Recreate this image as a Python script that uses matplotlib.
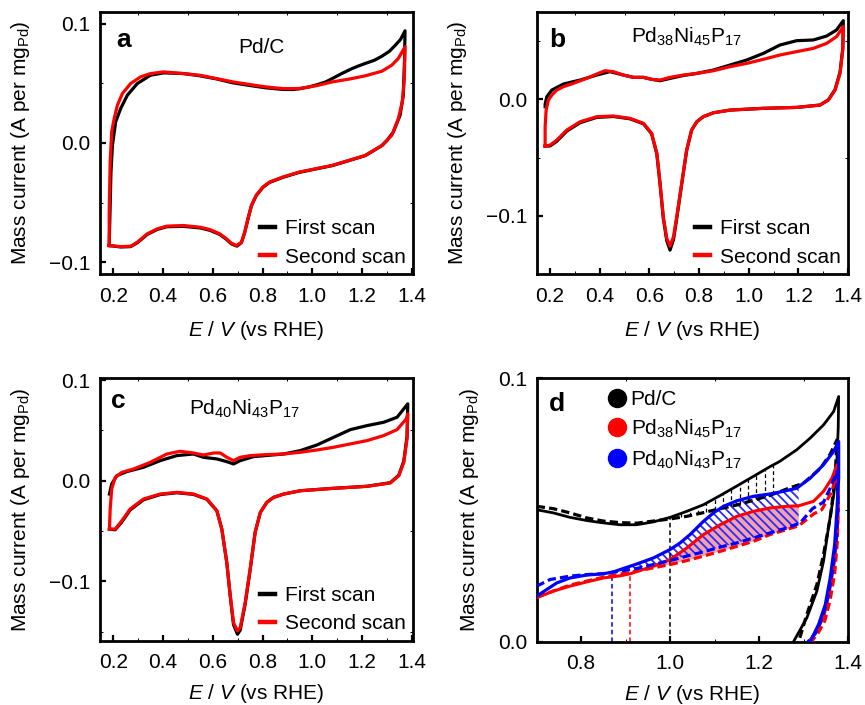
import numpy as np
import matplotlib
matplotlib.use('Agg')
import matplotlib.pyplot as plt
from matplotlib.ticker import MultipleLocator
from matplotlib.lines import Line2D

plt.rcParams.update({
    'font.family': ['Liberation Sans', 'DejaVu Sans'],
    'font.size': 15,
    'mathtext.fontset': 'custom',
    'mathtext.rm': 'Liberation Sans',
    'mathtext.it': 'Liberation Sans:italic',
    'mathtext.bf': 'Liberation Sans:bold',
    'axes.linewidth': 2.0,
    'hatch.linewidth': 1.3,
})

# ---------------- Panel a : Pd/C ----------------
a1_fwd_E = [0.183, 0.186, 0.190, 0.196, 0.209, 0.229, 0.256, 0.296, 0.349, 0.402, 0.482, 0.548, 0.615, 0.681, 0.748, 0.814, 0.881, 0.921, 0.947, 0.987, 1.020, 1.054, 1.080, 1.120, 1.160, 1.187, 1.213, 1.250, 1.280, 1.310, 1.333, 1.355, 1.373]
a1_fwd_I = [-0.0861, -0.060, -0.025, -0.002, 0.0177, 0.0289, 0.0401, 0.0499, 0.0569, 0.0589, 0.0583, 0.0564, 0.0538, 0.0505, 0.0483, 0.0463, 0.0450, 0.0449, 0.0455, 0.0471, 0.0490, 0.0513, 0.0541, 0.0585, 0.0625, 0.0648, 0.0668, 0.0695, 0.0729, 0.0770, 0.0819, 0.0870, 0.0942]
a1_bwd_E = [1.373, 1.371, 1.366, 1.353, 1.326, 1.300, 1.280, 1.213, 1.147, 1.080, 1.014, 0.947, 0.881, 0.828, 0.801, 0.774, 0.755, 0.741, 0.728, 0.715, 0.697, 0.675, 0.655, 0.628, 0.588, 0.548, 0.482, 0.415, 0.376, 0.336, 0.296, 0.269, 0.229, 0.183]
a1_bwd_I = [0.0942, 0.070, 0.0401, 0.0233, 0.0093, 0.0020, -0.0022, -0.0106, -0.0148, -0.0190, -0.0218, -0.0247, -0.0289, -0.0331, -0.0373, -0.0443, -0.0528, -0.0640, -0.0752, -0.0836, -0.0866, -0.0848, -0.0810, -0.0768, -0.0733, -0.0713, -0.0700, -0.0703, -0.0726, -0.0768, -0.0838, -0.0870, -0.0873, -0.0861]
a2_fwd_E = [0.183, 0.183, 0.187, 0.193, 0.203, 0.216, 0.236, 0.269, 0.309, 0.349, 0.402, 0.482, 0.548, 0.615, 0.681, 0.748, 0.814, 0.881, 0.947, 1.014, 1.080, 1.147, 1.213, 1.280, 1.320, 1.346, 1.373]
a2_fwd_I = [-0.0861, -0.058, -0.016, 0.0093, 0.0205, 0.0317, 0.0415, 0.0499, 0.0555, 0.0583, 0.0597, 0.0583, 0.0569, 0.0541, 0.0513, 0.0491, 0.0471, 0.0457, 0.0457, 0.0480, 0.0513, 0.0536, 0.0564, 0.0603, 0.0654, 0.0710, 0.0808]
a2_bwd_E = [1.373, 1.370, 1.362, 1.346, 1.320, 1.280, 1.213, 1.147, 1.080, 1.014, 0.947, 0.881, 0.828, 0.801, 0.774, 0.755, 0.741, 0.728, 0.715, 0.695, 0.675, 0.655, 0.628, 0.588, 0.548, 0.482, 0.415, 0.376, 0.336, 0.296, 0.269, 0.229, 0.183]
a2_bwd_I = [0.0808, 0.0541, 0.0345, 0.0205, 0.0065, -0.0020, -0.0104, -0.0146, -0.0188, -0.0216, -0.0244, -0.0286, -0.0328, -0.0370, -0.0440, -0.0525, -0.0637, -0.0749, -0.0833, -0.0861, -0.0842, -0.0805, -0.0763, -0.0727, -0.0707, -0.0693, -0.0698, -0.0721, -0.0763, -0.0833, -0.0867, -0.0870, -0.0861]

# ---------------- Panel b : Pd38Ni45P17 ----------------
b1_fwd_E = [0.180, 0.180, 0.187, 0.207, 0.254, 0.321, 0.388, 0.441, 0.495, 0.536, 0.576, 0.609, 0.643, 0.683, 0.737, 0.791, 0.858, 0.925, 0.992, 1.059, 1.126, 1.193, 1.260, 1.314, 1.354, 1.381]
b1_fwd_I = [-0.0063, -0.0040, 0.0023, 0.0080, 0.0132, 0.0166, 0.0209, 0.0238, 0.0209, 0.0189, 0.0189, 0.0172, 0.0160, 0.0180, 0.0205, 0.0223, 0.0252, 0.0295, 0.0338, 0.0395, 0.0467, 0.0504, 0.0510, 0.0544, 0.0596, 0.0676]
b_bwd_E = [1.381, 1.379, 1.368, 1.348, 1.321, 1.287, 1.193, 1.059, 0.925, 0.858, 0.817, 0.791, 0.770, 0.750, 0.730, 0.710, 0.697, 0.683, 0.670, 0.656, 0.643, 0.630, 0.609, 0.576, 0.522, 0.455, 0.388, 0.321, 0.267, 0.227, 0.200, 0.180]
b1_bwd_I = [0.0676, 0.0440, 0.0235, 0.0085, -0.0004, -0.0049, -0.0069, -0.0077, -0.0092, -0.0115, -0.0149, -0.0192, -0.0264, -0.0440, -0.0730, -0.1025, -0.1205, -0.1295, -0.1215, -0.1020, -0.0730, -0.0470, -0.0296, -0.0210, -0.0167, -0.0147, -0.0155, -0.0200, -0.0273, -0.0360, -0.0400, -0.0401]
b2_fwd_E = [0.180, 0.180, 0.184, 0.193, 0.207, 0.227, 0.254, 0.294, 0.348, 0.388, 0.421, 0.455, 0.495, 0.536, 0.576, 0.609, 0.643, 0.683, 0.737, 0.791, 0.858, 0.925, 0.992, 1.059, 1.126, 1.193, 1.260, 1.314, 1.354, 1.381]
b2_fwd_I = [-0.0401, -0.0235, -0.0092, -0.0006, 0.0037, 0.0080, 0.0109, 0.0138, 0.0181, 0.0218, 0.0246, 0.0238, 0.0209, 0.0189, 0.0189, 0.0172, 0.0166, 0.0189, 0.0209, 0.0223, 0.0246, 0.0281, 0.0309, 0.0344, 0.0381, 0.0410, 0.0438, 0.0481, 0.0539, 0.0625]
b2_bwd_I = [0.0625, 0.0424, 0.0223, 0.0080, -0.0006, -0.0049, -0.0069, -0.0077, -0.0092, -0.0115, -0.0149, -0.0192, -0.0264, -0.0436, -0.0722, -0.1009, -0.1181, -0.1261, -0.1195, -0.1009, -0.0722, -0.0464, -0.0292, -0.0206, -0.0163, -0.0143, -0.0149, -0.0192, -0.0264, -0.0350, -0.0393, -0.0401]

# ---------------- Panel c : Pd40Ni43P17 ----------------
c1_fwd_E = [0.184, 0.193, 0.214, 0.254, 0.321, 0.388, 0.455, 0.522, 0.562, 0.616, 0.656, 0.683, 0.710, 0.764, 0.885, 0.952, 1.019, 1.086, 1.153, 1.220, 1.287, 1.341, 1.384]
c1_fwd_I = [-0.0133, -0.0033, 0.0050, 0.0090, 0.0133, 0.0199, 0.0249, 0.0265, 0.0232, 0.0216, 0.0189, 0.0166, 0.0199, 0.0239, 0.0265, 0.0299, 0.0355, 0.0431, 0.0507, 0.0547, 0.0580, 0.0630, 0.0763]
c_bwd_E = [1.384, 1.381, 1.368, 1.348, 1.314, 1.220, 1.086, 0.952, 0.885, 0.844, 0.817, 0.791, 0.770, 0.750, 0.730, 0.710, 0.699, 0.683, 0.670, 0.656, 0.636, 0.616, 0.576, 0.522, 0.455, 0.388, 0.321, 0.267, 0.234, 0.207, 0.184]
c1_bwd_I = [0.0763, 0.0440, 0.0195, 0.0055, -0.0020, -0.0056, -0.0076, -0.0100, -0.0133, -0.0166, -0.0216, -0.0315, -0.0514, -0.0885, -0.1225, -0.1485, -0.1526, -0.1430, -0.1150, -0.0815, -0.0481, -0.0299, -0.0185, -0.0136, -0.0120, -0.0138, -0.0190, -0.0292, -0.0410, -0.0488, -0.0481]
c2_fwd_E = [0.184, 0.187, 0.193, 0.207, 0.234, 0.281, 0.348, 0.415, 0.468, 0.522, 0.562, 0.603, 0.630, 0.656, 0.683, 0.710, 0.750, 0.817, 0.885, 0.952, 1.019, 1.086, 1.153, 1.220, 1.287, 1.341, 1.378, 1.384]
c2_fwd_I = [-0.0481, -0.0282, -0.0083, 0.0033, 0.0083, 0.0116, 0.0182, 0.0265, 0.0292, 0.0275, 0.0255, 0.0275, 0.0275, 0.0232, 0.0199, 0.0232, 0.0249, 0.0259, 0.0265, 0.0282, 0.0305, 0.0332, 0.0365, 0.0398, 0.0448, 0.0507, 0.0614, 0.0663]
c2_bwd_I = [0.0663, 0.0415, 0.0182, 0.0050, -0.0023, -0.0056, -0.0076, -0.0100, -0.0133, -0.0166, -0.0216, -0.0315, -0.0514, -0.0879, -0.1211, -0.1459, -0.1493, -0.1410, -0.1144, -0.0813, -0.0481, -0.0299, -0.0182, -0.0133, -0.0116, -0.0133, -0.0182, -0.0282, -0.0398, -0.0481, -0.0481]

# ---------------- Panel d : comparison (0.7-1.4 V) ----------------
d_pdc1_fwd_E = [0.700, 0.7375, 0.775, 0.8125, 0.850, 0.8875, 0.925, 0.9625, 1.000, 1.0375, 1.075, 1.1126, 1.150, 1.1876, 1.225, 1.246, 1.285, 1.315, 1.345, 1.3677, 1.379]
d_pdc1_fwd_I = [0.0501, 0.0489, 0.0472, 0.0460, 0.0451, 0.0444, 0.0444, 0.0455, 0.0472, 0.0495, 0.0520, 0.0555, 0.0591, 0.0628, 0.0665, 0.0684, 0.0729, 0.0773, 0.0823, 0.0874, 0.0931]
d_pdc1_bwd_E = [1.379, 1.378, 1.375, 1.368, 1.356, 1.345, 1.330, 1.3075, 1.2775, 1.265]
d_pdc1_bwd_I = [0.0931, 0.0811, 0.0684, 0.0558, 0.0432, 0.0306, 0.0192, 0.0091, 0.0, -0.003]
d_pdc2_fwd_E = [0.700, 0.7375, 0.775, 0.8125, 0.850, 0.8875, 0.925, 0.9625, 1.000, 1.0375, 1.075, 1.1125, 1.150, 1.1875, 1.225, 1.246, 1.2625, 1.300, 1.3375, 1.360, 1.375]
d_pdc2_fwd_I = [0.0514, 0.0505, 0.0489, 0.0470, 0.0458, 0.0452, 0.0450, 0.0458, 0.0466, 0.0476, 0.0490, 0.0505, 0.0519, 0.0537, 0.0556, 0.0569, 0.0580, 0.0602, 0.0657, 0.0712, 0.0766]
d_pdc2_bwd_E = [1.375, 1.371, 1.360, 1.345, 1.330, 1.3075, 1.289, 1.280]
d_pdc2_bwd_I = [0.0766, 0.0621, 0.0470, 0.0331, 0.0217, 0.0104, 0.0, -0.003]

d_pnp38_1_fwd_E = [0.700, 0.7375, 0.775, 0.8125, 0.850, 0.8875, 0.910, 0.9625, 1.000, 1.0375, 1.075, 1.1125, 1.150, 1.1875, 1.225, 1.2625, 1.289, 1.3225, 1.345, 1.364, 1.375]
d_pnp38_1_fwd_I = [0.0167, 0.0192, 0.0211, 0.0227, 0.0242, 0.0250, 0.0258, 0.0287, 0.0312, 0.0356, 0.0407, 0.0444, 0.0476, 0.0495, 0.0508, 0.0514, 0.0516, 0.0533, 0.0571, 0.0621, 0.0672]
d_pnp38_1_bwd_E = [1.375, 1.378, 1.376, 1.369, 1.358, 1.346, 1.330, 1.312, 1.305]
d_pnp38_1_bwd_I = [0.0672, 0.055, 0.042, 0.030, 0.019, 0.010, 0.004, 0.0, -0.003]
d_pnp38_2_fwd_E = [0.700, 0.775, 0.850, 0.925, 1.000, 1.0375, 1.075, 1.1125, 1.150, 1.1875, 1.225, 1.2625, 1.289, 1.3225, 1.341, 1.364, 1.375]
d_pnp38_2_fwd_I = [0.0170, 0.0215, 0.0245, 0.0268, 0.0293, 0.0308, 0.0325, 0.0343, 0.0362, 0.0381, 0.0407, 0.0426, 0.0440, 0.0485, 0.0501, 0.0571, 0.0646]
d_pnp38_2_bwd_E = [1.375, 1.378, 1.376, 1.370, 1.360, 1.348, 1.332, 1.317, 1.310]
d_pnp38_2_bwd_I = [0.0646, 0.050, 0.038, 0.026, 0.016, 0.008, 0.003, 0.0, -0.003]

d_pnp40_1_fwd_E = [0.700, 0.7225, 0.745, 0.775, 0.8125, 0.850, 0.8725, 0.895, 0.925, 0.9625, 1.000, 1.0225, 1.045, 1.075, 1.0975, 1.120, 1.150, 1.1875, 1.225, 1.255, 1.285, 1.315, 1.345, 1.3675, 1.379]
d_pnp40_1_fwd_I = [0.0173, 0.0198, 0.0223, 0.0242, 0.0253, 0.0258, 0.0265, 0.0278, 0.0295, 0.0318, 0.0350, 0.0375, 0.0407, 0.0457, 0.0489, 0.0514, 0.0535, 0.0552, 0.0561, 0.0571, 0.0583, 0.0621, 0.0672, 0.0722, 0.0760]
d_pnp40_1_bwd_E = [1.379, 1.379, 1.375, 1.370, 1.360, 1.349, 1.334, 1.315, 1.308]
d_pnp40_1_bwd_I = [0.0760, 0.0621, 0.0495, 0.0369, 0.0242, 0.0141, 0.0066, 0.0, -0.003]
d_pnp40_2_fwd_E = [0.700, 0.730, 0.775, 0.8125, 0.850, 0.8875, 0.925, 0.9625, 1.000, 1.0375, 1.075, 1.1125, 1.150, 1.1875, 1.225, 1.2625, 1.2925, 1.320, 1.345, 1.360, 1.375]
d_pnp40_2_fwd_I = [0.0211, 0.0236, 0.0249, 0.0255, 0.0258, 0.0268, 0.0278, 0.0293, 0.0308, 0.0325, 0.0341, 0.0359, 0.0375, 0.0394, 0.0413, 0.0432, 0.0451, 0.0505, 0.0530, 0.0583, 0.0646]
d_pnp40_2_bwd_E = [1.375, 1.378, 1.374, 1.366, 1.355, 1.342, 1.326, 1.310, 1.303]
d_pnp40_2_bwd_I = [0.0646, 0.052, 0.040, 0.028, 0.017, 0.009, 0.003, 0.0, -0.003]

onset_E = [1.00, 0.91, 0.87]                 # Pd/C, Pd38Ni45P17, Pd40Ni43P17
area_ranges = [(1.00, 1.246), (0.91, 1.289), (0.87, 1.289)]
legend_labels_d = ['Pd/C', 'Pd$_{38}$Ni$_{45}$P$_{17}$', 'Pd$_{40}$Ni$_{43}$P$_{17}$']
scan_labels = ['First scan', 'Second scan']
panel_titles = ['Pd/C', 'Pd$_{38}$Ni$_{45}$P$_{17}$', 'Pd$_{40}$Ni$_{43}$P$_{17}$']

XLAB = '$E$ / $V$ (vs RHE)'
YLAB = 'Mass current (A per mg$_{\\mathrm{Pd}}$)'

fig = plt.figure(figsize=(8.65, 7.05), dpi=100)
W, H = 865.0, 705.0
def add_ax(l, r, t, b):
    return fig.add_axes([l / W, 1 - b / H, (r - l) / W, (b - t) / H])

ax_a = add_ax(100, 413, 12, 274)
ax_b = add_ax(536.7, 848, 11.7, 274)
ax_c = add_ax(100, 413, 378.3, 640.7)
ax_d = add_ax(536.7, 848, 378.3, 641.7)

def style(ax, xmaj, xmin, ymaj, ymin, xpad=10):
    ax.xaxis.set_major_locator(MultipleLocator(xmaj))
    ax.xaxis.set_minor_locator(MultipleLocator(xmin))
    ax.yaxis.set_major_locator(MultipleLocator(ymaj))
    ax.yaxis.set_minor_locator(MultipleLocator(ymin))
    ax.tick_params(which='major', direction='in', length=4.5, width=1.6, labelsize=15)
    ax.tick_params(axis='x', which='major', pad=9)
    ax.tick_params(axis='y', which='major', pad=7)
    ax.tick_params(which='minor', direction='in', length=2.5, width=0.7,
                   top=True, right=True)
    ax.set_xlabel(XLAB, fontsize=15, labelpad=xpad)
    ax.set_ylabel(YLAB, fontsize=15, labelpad=12)

LW = 2.3
def cv_panel(ax, f1E, f1I, b1E, b1I, f2E, f2I, b2E, b2I, letter, title, tpos, lpos, ylim, xpad=10):
    l1, = ax.plot(np.r_[f1E, b1E], np.r_[f1I, b1I], color='black', lw=LW, label=scan_labels[0])
    l2, = ax.plot(np.r_[f2E, b2E], np.r_[f2I, b2I], color='#ff0000', lw=LW, label=scan_labels[1])
    ax.set_xlim(0.146, 1.405)
    ax.set_ylim(*ylim)
    style(ax, 0.2, 0.1, 0.1, 0.05, xpad)
    ax.text(lpos[0], lpos[1], letter, transform=ax.transAxes, fontsize=19,
            fontweight='bold', ha='left', va='baseline')
    ax.text(tpos[0], tpos[1], title, transform=ax.transAxes, fontsize=15,
            ha='center', va='baseline')
    leg = ax.legend(handles=[l1, l2], loc='lower right', frameon=False, fontsize=15,
                    handlelength=0.75, handletextpad=0.45, labelspacing=0.45,
                    borderpad=0.1, borderaxespad=0.25)
    for h in leg.legend_handles:
        h.set_linewidth(3.2)

cv_panel(ax_a, a1_fwd_E, a1_fwd_I, a1_bwd_E, a1_bwd_I, a2_fwd_E, a2_fwd_I, a2_bwd_E, a2_bwd_I,
         'a', panel_titles[0], (0.517, 0.842), (0.052, 0.866), (-0.110, 0.110))
cv_panel(ax_b, b1_fwd_E, b1_fwd_I, b_bwd_E, b1_bwd_I, b2_fwd_E, b2_fwd_I, b_bwd_E, b2_bwd_I,
         'b', panel_titles[1], (0.482, 0.882), (0.040, 0.867), (-0.150, 0.0753))
ax_b.set_xlim(0.146, 1.40)
cv_panel(ax_c, c1_fwd_E, c1_fwd_I, c_bwd_E, c1_bwd_I, c2_fwd_E, c2_fwd_I, c_bwd_E, c2_bwd_I,
         'c', panel_titles[2], (0.463, 0.860), (0.036, 0.886), (-0.159, 0.1017), xpad=7)

# ---------------- Panel d ----------------
ax = ax_d
ax.set_xlim(0.7, 1.4)
ax.set_ylim(0.0, 0.1)
style(ax, 0.2, 0.1, 0.1, 0.05, xpad=7)

# shaded / hatched areas
g = np.linspace(area_ranges[1][0], area_ranges[1][1], 200)
ax.fill_between(g, np.interp(g, d_pnp38_2_fwd_E, d_pnp38_2_fwd_I),
                np.interp(g, d_pnp38_1_fwd_E, d_pnp38_1_fwd_I),
                facecolor='#ee6f82', alpha=0.65, lw=0, zorder=1)
g = np.linspace(area_ranges[2][0], area_ranges[2][1], 200)
ax.fill_between(g, np.interp(g, d_pnp40_2_fwd_E, d_pnp40_2_fwd_I),
                np.interp(g, d_pnp40_1_fwd_E, d_pnp40_1_fwd_I),
                facecolor='none', edgecolor='#2a2aff', hatch='\\\\\\\\', lw=0, zorder=1.5)
xs = np.arange(area_ranges[0][0] + 0.006, area_ranges[0][1] + 0.001, 0.0188)
ax.vlines(xs, np.interp(xs, d_pdc2_fwd_E, d_pdc2_fwd_I), np.interp(xs, d_pdc1_fwd_E, d_pdc1_fwd_I),
          colors='black', linestyles=(0, (3, 2.2)), lw=0.9, zorder=1.5)

# onset lines
onset_cols = ['black', '#ff0000', '#0000ff']
onset_src = [(d_pdc1_fwd_E, d_pdc1_fwd_I), (d_pnp38_1_fwd_E, d_pnp38_1_fwd_I), (d_pnp40_1_fwd_E, d_pnp40_1_fwd_I)]
for e, c, (sE, sI) in zip(onset_E, onset_cols, onset_src):
    ax.vlines(e, 0, np.interp(e, sE, sI), colors=c, linestyles=(0, (3, 2)), lw=1.1, zorder=2)

DASH = (0, (2.6, 1.3))
ax.plot(np.r_[d_pdc1_fwd_E, d_pdc1_bwd_E], np.r_[d_pdc1_fwd_I, d_pdc1_bwd_I], color='black', lw=2.0, zorder=3)
ax.plot(np.r_[d_pdc2_fwd_E, d_pdc2_bwd_E], np.r_[d_pdc2_fwd_I, d_pdc2_bwd_I], color='black', lw=2.3, ls=DASH, zorder=3)
ax.plot(np.r_[d_pnp38_1_fwd_E, d_pnp38_1_bwd_E], np.r_[d_pnp38_1_fwd_I, d_pnp38_1_bwd_I], color='#ff0000', lw=2.2, zorder=3)
ax.plot(np.r_[d_pnp38_2_fwd_E, d_pnp38_2_bwd_E], np.r_[d_pnp38_2_fwd_I, d_pnp38_2_bwd_I], color='#ff0000', lw=2.3, ls=DASH, zorder=3)
ax.plot(np.r_[d_pnp40_2_fwd_E, d_pnp40_2_bwd_E], np.r_[d_pnp40_2_fwd_I, d_pnp40_2_bwd_I], color='#0000ff', lw=2.3, ls=DASH, zorder=3)
ax.plot(np.r_[d_pnp40_1_fwd_E, d_pnp40_1_bwd_E], np.r_[d_pnp40_1_fwd_I, d_pnp40_1_bwd_I], color='#0000ff', lw=2.3, zorder=3.5)

ax.text(0.040, 0.874, 'd', transform=ax.transAxes, fontsize=19, fontweight='bold',
        ha='left', va='baseline')
handles = [Line2D([], [], ls='none', marker='o', markersize=13, color=c, label=l)
           for c, l in zip(onset_cols, legend_labels_d)]
ax.legend(handles=handles, loc='upper left', bbox_to_anchor=(0.185, 1.01), frameon=False,
          fontsize=15, handlelength=0.8, handletextpad=0.25, labelspacing=0.4,
          borderpad=0.2)

fig.savefig('out.png', dpi=100, facecolor='white')
